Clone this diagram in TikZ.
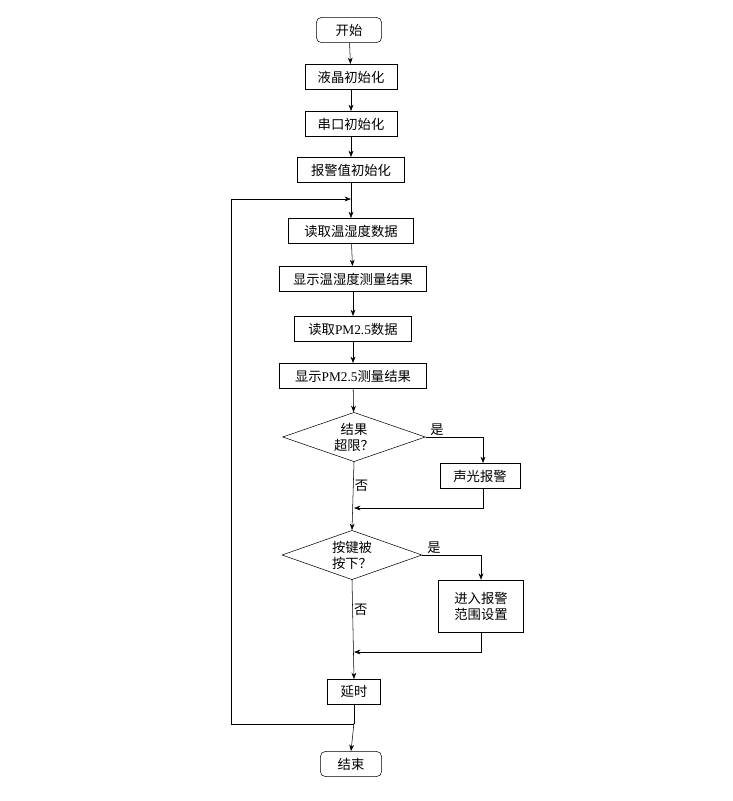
\documentclass[tikz,border=0pt]{standalone}
\usepackage{fontspec}
\setmainfont{Liberation Serif}
\newfontfamily\cjk{Noto Sans CJK SC}
\usetikzlibrary{shapes.geometric, arrows.meta, calc}

\begin{document}
\begin{tikzpicture}[x=0.75pt, y=-0.75pt, >=Stealth, font=\cjk\fontsize{10}{12}\selectfont,
  box/.style={draw, thin, minimum height=19pt, inner xsep=4pt},
  term/.style={box, rounded corners=4pt},
  cond/.style={draw, thin, diamond, aspect=2.9, inner sep=1pt, align=center},
  lbl/.style={inner sep=1pt}]

  \useasboundingbox (0,0) rectangle (733,801);

  % --- sequência principal ---
  \node[term, minimum width=49pt] (start) at (349,30) {开始};
  \node[box, minimum width=69pt] (lcd) at (351,77) {液晶初始化};
  \node[box, minimum width=69pt] (uart) at (351,124) {串口初始化};
  \node[box, minimum width=80pt] (alarm) at (351,170) {报警值初始化};
  \coordinate (join) at (351,199);
  \node[box, minimum width=94pt] (rdth) at (351,231) {读取温湿度数据};
  \node[box, minimum width=110pt] (shth) at (353,279) {显示温湿度测量结果};
  \node[box, minimum width=88pt] (rdpm) at (353,329) {读取{\rmfamily PM2.5}数据};
  \node[box, minimum width=110pt] (shpm) at (353,376) {显示{\rmfamily PM2.5}测量结果};
  \node[cond, minimum width=107pt, minimum height=37pt] (over) at (354,437) {结果\\超限？};
  \node[box, minimum width=60pt] (beep) at (480,476) {声光报警};
  \coordinate (m1) at (354,508);
  \node[cond, minimum width=105pt, minimum height=37pt] (key) at (352,555) {按键被\\按下？};
  \node[box, minimum width=64pt, minimum height=39pt, align=center] (set) at (481,606) {进入报警\\范围设置};
  \coordinate (m2) at (354,652);
  \node[box, minimum width=40pt] (delay) at (354,692) {延时};
  \coordinate (back) at (354,724);
  \node[term, minimum width=46pt] (stop) at (351,764) {结束};

  % --- conexões ---
  \draw[->] (start) -- (lcd);
  \draw[->] (lcd) -- (uart);
  \draw[->] (uart) -- (alarm);
  \draw[->] (alarm) -- (rdth);
  \draw[->] (rdth) -- (shth);
  \draw[->] (shth) -- (rdpm);
  \draw[->] (rdpm) -- (shpm);
  \draw[->] (shpm) -- (over);

  \draw[->] (over.east) -- (483,437) node[lbl, above, pos=0.2] {是} -- (beep.north -| 483,0);
  \draw[->] (beep.south -| 483,0) -- (483,508) -- (m1);
  \draw[->] (over.south) -- node[lbl, right, pos=0.35] {否} (key.north);

  \draw[->] (key.east) -- (481,555) node[lbl, above, pos=0.2] {是} -- (set.north);
  \draw[->] (set.south) -- (481,652) -- (m2);
  \draw[->] (key.south) -- node[lbl, right, pos=0.3] {否} (delay.north);

  % --- retorno ---
  \draw (delay.south) -- (back);
  \draw[->] (back) -- (231,724) -- (231,199) -- (join);
  \draw[->] (delay.south) ++(0,18) -- (stop.north);
\end{tikzpicture}
\end{document}
